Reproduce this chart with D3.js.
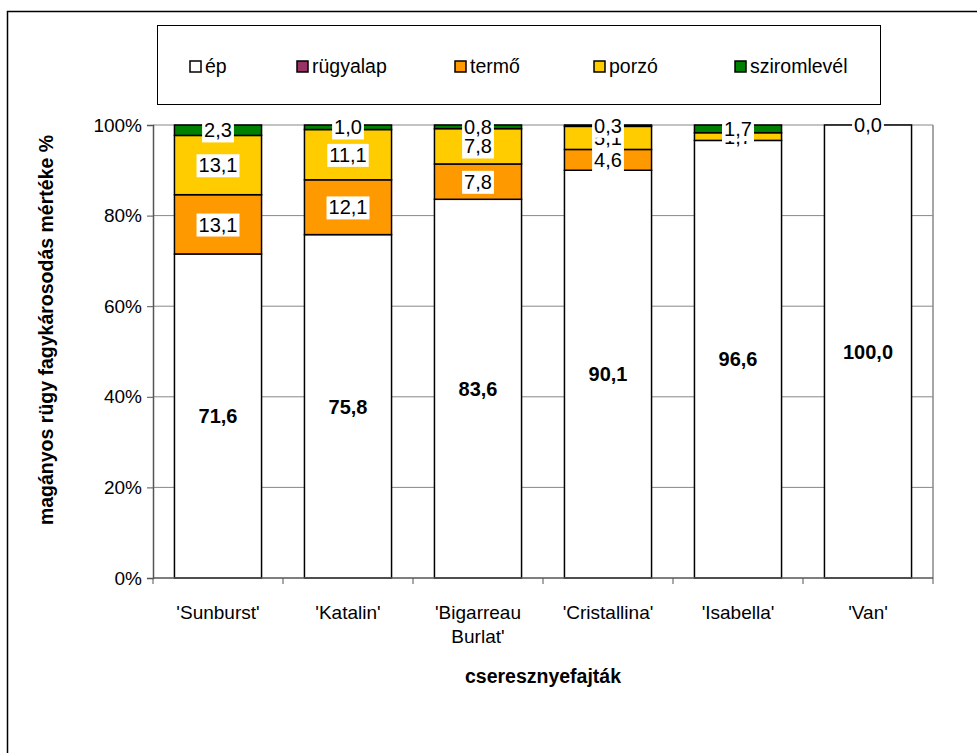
<!DOCTYPE html>
<html><head><meta charset="utf-8">
<script src="https://cdn.jsdelivr.net/npm/d3@7"></script>
<style>
body{margin:0;background:#fff;}
svg{display:block;font-family:"Liberation Sans",Arial,sans-serif;}
</style></head>
<body><svg id="c" width="977" height="753"></svg>
<script>
const categories = ["'Sunburst'", "'Katalin'", "'Bigarreau Burlat'", "'Cristallina'", "'Isabella'", "'Van'"];
const seriesNames = ["ép", "rügyalap", "termő", "porzó", "sziromlevél"];
const seriesColors = ["#FFFFFF", "#993366", "#FF9900", "#FFCC00", "#008000"];
const ep          = [71.6, 75.8, 83.6, 90.1, 96.6, 100.0];
const rugyalap    = [null, null, null, null, null, null];
const termo       = [13.1, 12.1, 7.8, 4.6, null, null];
const porzo       = [13.1, 11.1, 7.8, 5.1, 1.7, null];
const sziromlevel = [2.3, 1.0, 0.8, 0.3, 1.7, 0.0];
const yTicks = [0, 20, 40, 60, 80, 100];

const seriesValues = [ep, rugyalap, termo, porzo, sziromlevel];
const svg = d3.select("#c");
const X0 = 153, X1 = 933, Y0 = 578, Y1 = 125;

// outer frame
svg.append("rect").attr("x", 7.5).attr("y", 11.5).attr("width", 1000).attr("height", 800)
  .attr("fill", "none").attr("stroke", "#000").attr("stroke-width", 1.5);

const x = d3.scaleBand().domain(categories).range([X0, X1]).paddingInner(0.33).paddingOuter(0.165);
const y = d3.scaleLinear().domain([0, 100]).range([Y0, Y1]);

// gridlines
svg.append("g").selectAll("line").data(yTicks.filter(d => d > 0)).join("line")
  .attr("x1", X0).attr("x2", X1).attr("y1", d => y(d)).attr("y2", d => y(d))
  .attr("stroke", "#888").attr("stroke-width", 1);
svg.append("line").attr("x1", X1).attr("x2", X1).attr("y1", Y1).attr("y2", Y0)
  .attr("stroke", "#888").attr("stroke-width", 1.5);

// stacked data (100% stacked)
const rows = categories.map((c, i) => {
  const total = seriesValues.reduce((s, arr) => s + (arr[i] || 0), 0);
  let acc = 0;
  return seriesValues.map((arr, k) => {
    const v = arr[i];
    const p0 = acc;
    acc += (v || 0) / total * 100;
    return {cat: c, k, v, p0, p1: acc};
  });
});

const bars = svg.append("g");
rows.forEach(r => r.forEach(s => {
  if (s.v === null || s.v === 0) return;
  bars.append("rect")
    .attr("x", x(s.cat)).attr("width", x.bandwidth())
    .attr("y", y(s.p1)).attr("height", y(s.p0) - y(s.p1))
    .attr("fill", seriesColors[s.k]).attr("stroke", "#000").attr("stroke-width", 1.5);
}));

// axes
const yAxis = svg.append("g").attr("transform", `translate(${X0},0)`)
  .call(d3.axisLeft(y).tickValues(yTicks).tickFormat(d => d + "%").tickSize(6).tickPadding(5));
yAxis.select(".domain").attr("stroke", "#555").attr("stroke-width", 1.5);
yAxis.selectAll(".tick line").attr("stroke", "#555");
yAxis.selectAll("text").attr("font-size", 19).attr("fill", "#000").attr("font-family", "Liberation Sans, Arial, sans-serif");

const xAxis = svg.append("g").attr("transform", `translate(0,${Y0})`);
xAxis.append("line").attr("x1", X0).attr("x2", X1).attr("stroke", "#555").attr("stroke-width", 1.5);
const bounds = d3.range(categories.length + 1).map(i => X0 + i * x.step());
xAxis.selectAll("line.t").data(bounds).join("line").attr("class", "t")
  .attr("x1", d => d).attr("x2", d => d).attr("y1", 0).attr("y2", 6).attr("stroke", "#555");
xAxis.selectAll("text").data(categories).join("text")
  .attr("text-anchor", "middle").attr("font-size", 19)
  .each(function(d) {
    const t = d3.select(this);
    const parts = d.split(" ");
    parts.forEach((p, i) => t.append("tspan").attr("x", x(d) + x.bandwidth() / 2).attr("y", 41 + i * 24).text(p));
  });

// labels
const lab = svg.append("g");
const labOrder = [0, 1, 3, 2, 4];
labOrder.forEach(k => rows.forEach(r => {
  const s = r[k];
  if (s.v === null) return;
  const cx = x(s.cat) + x.bandwidth() / 2;
  const cy = y((s.p0 + s.p1) / 2);
  const txt = d3.format(".1f")(s.v).replace(".", ",");
  const g = lab.append("g");
  const t = g.append("text").attr("x", cx).attr("y", cy).attr("dy", "0.36em")
    .attr("text-anchor", "middle").attr("font-size", 20)
    .attr("font-weight", k === 0 ? "bold" : "normal").text(txt);
  if (k !== 0) {
    const bb = t.node().getBBox();
    g.insert("rect", "text").attr("x", bb.x - 2).attr("y", bb.y).attr("width", bb.width + 4).attr("height", bb.height + 1).attr("fill", "#fff");
  }
}));

// axis titles
svg.append("text").attr("transform", "translate(53,330) rotate(-90)").attr("text-anchor", "middle")
  .attr("font-size", 19.5).attr("font-weight", "bold").text("magányos rügy fagykárosodás mértéke %");
svg.append("text").attr("x", 543).attr("y", 683).attr("text-anchor", "middle")
  .attr("font-size", 19.5).attr("font-weight", "bold").text("cseresznyefajták");

// legend
const leg = svg.append("g");
leg.append("rect").attr("x", 157.5).attr("y", 25.5).attr("width", 723).attr("height", 79)
  .attr("fill", "#fff").attr("stroke", "#000").attr("stroke-width", 1);
const legX = [190, 297, 455, 594, 735];
seriesNames.forEach((n, i) => {
  leg.append("rect").attr("x", legX[i]).attr("y", 61).attr("width", 11).attr("height", 11)
    .attr("fill", seriesColors[i]).attr("stroke", "#000").attr("stroke-width", 1.5);
  leg.append("text").attr("x", legX[i] + 15).attr("y", 73).attr("font-size", 19.5).text(n);
});
</script></body></html>
